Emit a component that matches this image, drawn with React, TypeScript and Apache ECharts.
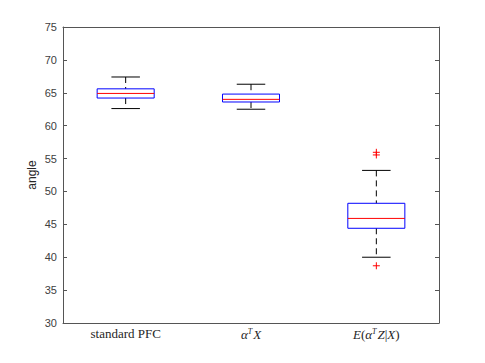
import React, { useEffect, useRef } from "react";
import * as echarts from "echarts";

const categories = ["standard PFC", "alphaTX", "E(alphaTZ|X)"];
// [lower whisker, q1, median, q3, upper whisker]
const lowerWhisker = [62.6, 62.5, 40.0];
const q1 = [64.2, 63.6, 44.4];
const median = [64.9, 64.0, 45.9];
const q3 = [65.6, 64.8, 48.2];
const upperWhisker = [67.4, 66.3, 53.2];
const outlierCategory = [2, 2, 2];
const outlierValue = [55.95, 55.55, 38.7];
const yTicks = { min: 30, max: 75, interval: 5 };

const axisColor = "#555555";

export default function App() {
  const ref = useRef<HTMLDivElement>(null);
  useEffect(() => {
    if (!ref.current) return;
    const chart = echarts.init(ref.current, null, { renderer: "svg" });
    const boxData = categories.map((_, i) => [i, lowerWhisker[i], q1[i], median[i], q3[i], upperWhisker[i]]);
    const outData = outlierValue.map((v, i) => [outlierCategory[i], v]);
    const labelRich = {
      r: { fontFamily: "Liberation Serif", fontSize: 13, color: "#262626" },
      i: { fontFamily: "Liberation Serif", fontStyle: "italic", fontSize: 13, color: "#262626" },
      s: { fontFamily: "Liberation Serif", fontStyle: "italic", fontSize: 8, color: "#262626", verticalAlign: "top", padding: [0, 1, 6, 0] },
    };
    const fmt = (v: string) => {
      if (v === "standard PFC") return "{r|standard PFC}";
      if (v === "alphaTX") return "{i|α}{s|T}{i|X}";
      return "{i|E}{r|(}{i|α}{s|T}{i|Z}{r||}{i|X}{r|)}";
    };
    chart.setOption({
      animation: false,
      grid: { left: 63, right: 46, top: 27, bottom: 40 },
      xAxis: [
        {
          type: "category",
          data: categories,
          boundaryGap: true,
          axisLine: { lineStyle: { color: axisColor, width: 1 } },
          axisTick: { inside: true, length: 4, alignWithLabel: true, lineStyle: { color: axisColor } },
          axisLabel: { formatter: fmt, rich: labelRich, margin: 4, interval: 0, hideOverlap: false },
          splitLine: { show: false },
        },
        {
          type: "category",
          data: categories,
          position: "top",
          boundaryGap: true,
          axisLine: { show: true, lineStyle: { color: axisColor, width: 1 } },
          axisTick: { inside: true, length: 4, alignWithLabel: true, interval: 0, lineStyle: { color: axisColor } },
          axisLabel: { show: false },
          splitLine: { show: false },
        },
      ],
      yAxis: [
        {
          type: "value",
          min: yTicks.min,
          max: yTicks.max,
          interval: yTicks.interval,
          name: "angle",
          nameLocation: "middle",
          nameGap: 25,
          nameMoveOverlap: false,
          nameTextStyle: { fontFamily: "Liberation Sans", fontSize: 12, color: "#262626" },
          axisLine: { show: true, lineStyle: { color: axisColor, width: 1 } },
          axisTick: { show: true, inside: true, length: 4, lineStyle: { color: axisColor } },
          axisLabel: { fontFamily: "Liberation Sans", fontSize: 11, color: "#404040", margin: 6 },
          splitLine: { show: false },
        },
        {
          type: "value",
          min: yTicks.min,
          max: yTicks.max,
          interval: yTicks.interval,
          position: "right",
          axisLine: { show: true, lineStyle: { color: axisColor, width: 1 } },
          axisTick: { show: true, inside: true, length: 4, lineStyle: { color: axisColor } },
          axisLabel: { show: false },
          splitLine: { show: false },
        },
      ],
      series: [
        {
          type: "custom",
          xAxisIndex: 0,
          yAxisIndex: 0,
          data: boxData,
          renderItem: (params: any, api: any) => {
            const idx = api.value(0);
            const lo = api.coord([idx, api.value(1)]);
            const b1 = api.coord([idx, api.value(2)]);
            const md = api.coord([idx, api.value(3)]);
            const b3 = api.coord([idx, api.value(4)]);
            const hi = api.coord([idx, api.value(5)]);
            const bw = api.size([1, 0])[0] * 0.455;
            const cx = lo[0];
            const half = bw / 2;
            const cap = bw / 4;
            return {
              type: "group",
              children: [
                { type: "line", shape: { x1: cx, y1: hi[1], x2: cx, y2: b3[1] }, style: { stroke: "#000", lineWidth: 1, lineDash: [6, 4] } },
                { type: "line", shape: { x1: cx, y1: b1[1], x2: cx, y2: lo[1] }, style: { stroke: "#000", lineWidth: 1, lineDash: [6, 4] } },
                { type: "line", shape: { x1: cx - cap, y1: hi[1], x2: cx + cap, y2: hi[1] }, style: { stroke: "#000", lineWidth: 1 } },
                { type: "line", shape: { x1: cx - cap, y1: lo[1], x2: cx + cap, y2: lo[1] }, style: { stroke: "#000", lineWidth: 1 } },
                { type: "rect", shape: { x: cx - half, y: b3[1], width: bw, height: b1[1] - b3[1] }, style: { fill: "none", stroke: "#0000ff", lineWidth: 1 } },
                { type: "line", shape: { x1: cx - half, y1: md[1], x2: cx + half, y2: md[1] }, style: { stroke: "#ff0000", lineWidth: 1 } },
              ],
            };
          },
        },
        {
          type: "custom",
          xAxisIndex: 0,
          yAxisIndex: 0,
          data: outData,
          renderItem: (params: any, api: any) => {
            const p = api.coord([api.value(0), api.value(1)]);
            const s = 3.5;
            return {
              type: "group",
              children: [
                { type: "line", shape: { x1: p[0] - s, y1: p[1], x2: p[0] + s, y2: p[1] }, style: { stroke: "#ff0000", lineWidth: 1 } },
                { type: "line", shape: { x1: p[0], y1: p[1] - s, x2: p[0], y2: p[1] + s }, style: { stroke: "#ff0000", lineWidth: 1 } },
              ],
            };
          },
        },
      ],
    });
    return () => chart.dispose();
  }, []);
  return <div ref={ref} style={{ width: 485, height: 363, position: "absolute", left: 0, top: 0 }} />;
}
